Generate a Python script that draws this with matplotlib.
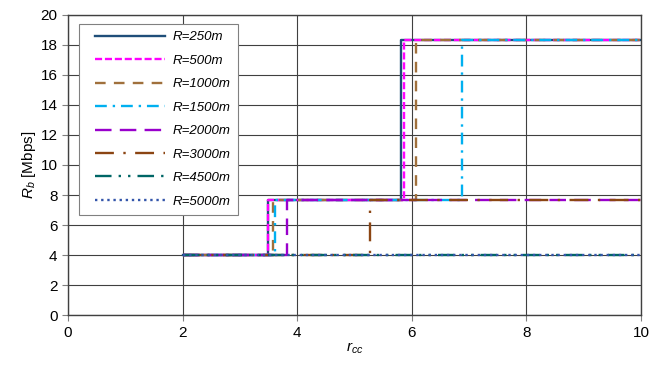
import matplotlib as mpl
import matplotlib.pyplot as plt
from matplotlib.legend_handler import HandlerLine2D
from matplotlib.lines import Line2D

mpl.rcParams.update({
    "font.family": "Liberation Sans",
    "mathtext.fontset": "custom",
    "mathtext.rm": "Liberation Sans",
    "mathtext.it": "Liberation Sans:italic",
})

# step data: x breakpoints and the rate level reached at each one
labels = ["R=250m", "R=500m", "R=1000m", "R=1500m", "R=2000m", "R=3000m", "R=4500m", "R=5000m"]
x_250 = [2, 3.49, 5.81, 10]
y_250 = [4, 7.7, 18.3, 18.3]
x_500 = [2, 3.49, 5.87, 10]
y_500 = [4, 7.7, 18.3, 18.3]
x_1000 = [2, 3.57, 6.07, 10]
y_1000 = [4, 7.7, 18.3, 18.3]
x_1500 = [2, 3.61, 6.87, 10]
y_1500 = [4, 7.7, 18.3, 18.3]
x_2000 = [2, 3.82, 10]
y_2000 = [4, 7.7, 7.7]
x_3000 = [2, 5.27, 10]
y_3000 = [4, 7.7, 7.7]
x_4500 = [2, 10]
y_4500 = [4, 4]
x_5000 = [2, 10]
y_5000 = [4, 4]

xs = [x_250, x_500, x_1000, x_1500, x_2000, x_3000, x_4500, x_5000]
ys = [y_250, y_500, y_1000, y_1500, y_2000, y_3000, y_4500, y_5000]
colors = ["#1F4E79", "#FF00FF", "#A0703C", "#00B0F0", "#9900CC", "#8B4513", "#006666", "#3355AA"]
dashes = [None, (3, 1.2), (4.5, 3.5), (5, 2.5, 1, 2.5), (7, 3.5), (8, 4, 1, 4),
          (7, 3, 1, 3, 1, 3), (1, 1.6)]

fig = plt.figure(figsize=(6.51, 3.72), dpi=100)
ax = fig.add_axes([0.1045, 0.153, 0.88, 0.807])

for x, y, c, d, lab in zip(xs, ys, colors, dashes, labels):
    line, = ax.plot(x, y, drawstyle="steps-post", color=c, lw=1.7, label=lab)
    if d is not None:
        line.set_dashes(d)

ax.set_xlim(0, 10)
ax.set_ylim(0, 20)
ax.set_xticks(range(0, 11, 2))
ax.set_yticks(range(0, 21, 2))
ax.grid(True, color="#404040", lw=0.8)
ax.set_axisbelow(True)
ax.tick_params(labelsize=11, direction="out", length=4, color="#808080")
for s in ax.spines.values():
    s.set_color("#404040")
    s.set_linewidth(1.0)

ax.set_xlabel(r"$r_{cc}$", fontsize=11, labelpad=1)
ax.set_ylabel(r"$R_b$ [Mbps]", fontsize=11, labelpad=2)

leg = ax.legend(loc="upper left", bbox_to_anchor=(0.02, 0.97), borderaxespad=0,
                fancybox=False, edgecolor="#808080", framealpha=1,
                prop={"style": "italic", "size": 9.5}, handlelength=5.9,
                labelspacing=0.85, borderpad=0.55, handletextpad=0.6,
                handler_map={Line2D: HandlerLine2D(xpad=0.6)})
leg.get_frame().set_linewidth(0.8)

fig.savefig("out.png", dpi=100)
